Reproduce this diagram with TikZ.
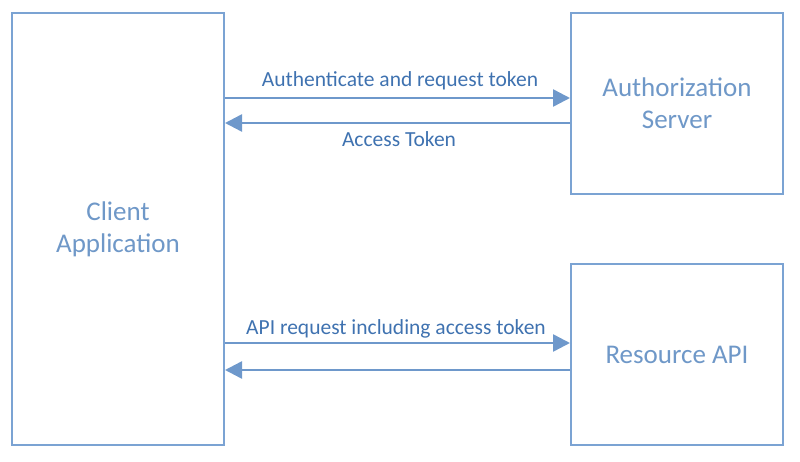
\documentclass[tikz,border=0pt]{standalone}
\usepackage{fontspec}
\setmainfont{Carlito}
\usetikzlibrary{arrows.meta}
\definecolor{boxc}{HTML}{7BA3D3}
\definecolor{boxtxt}{HTML}{6F98C8}
\definecolor{lbl}{HTML}{3F72B0}
\definecolor{arr}{HTML}{6E98CB}
\tikzset{
  box/.style={draw=boxc, line width=2pt, fill=white, text=boxtxt, align=center, inner sep=0pt,
    font=\fontsize{27}{32}\selectfont},
  flow/.style={draw=arr, line width=2.5pt, -{Triangle[length=17pt,width=17pt]}},
  lab/.style={text=lbl, font=\fontsize{21.5}{25}\selectfont, inner sep=0pt}
}
\begin{document}
\begin{tikzpicture}[x=1pt,y=-1pt]
\useasboundingbox (0,0) rectangle (800,462);
\node[box, minimum width=212pt, minimum height=432pt] (client) at (118,229) {Client\\Application};
\node[box, minimum width=212pt, minimum height=181pt] (auth) at (677,103.5) {Authorization\\Server};
\node[box, minimum width=212pt, minimum height=181pt] (res) at (677,354.5) {Resource API};
\coordinate (c1) at (client.east |- 0,98);
\coordinate (a1) at (auth.west |- 0,98);
\coordinate (c2) at (client.east |- 0,123);
\coordinate (a2) at (auth.west |- 0,123);
\coordinate (c3) at (client.east |- 0,343);
\coordinate (r3) at (res.west |- 0,343);
\coordinate (c4) at (client.east |- 0,370);
\coordinate (r4) at (res.west |- 0,370);
\draw[flow] (c1) -- (a1);
\draw[flow] (a2) -- (c2);
\draw[flow] (c3) -- (r3);
\draw[flow] (r4) -- (c4);
\node[lab] (l1) at (400,81) {Authenticate and request token};
\node[lab] (l2) at (399,139) {Access Token};
\node[lab] (l3) at (396,329) {API request including access token};
\end{tikzpicture}
\end{document}
